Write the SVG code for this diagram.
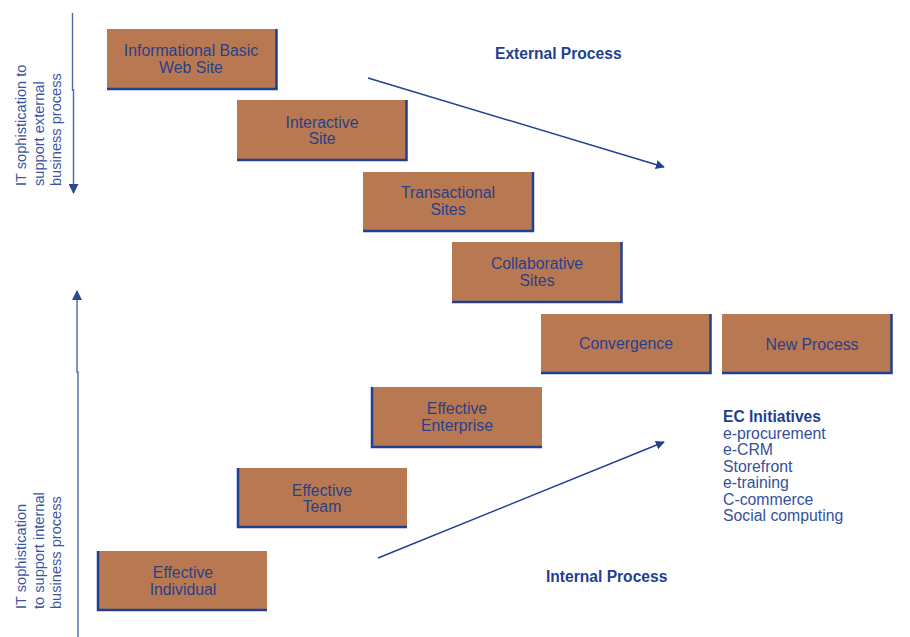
<svg xmlns="http://www.w3.org/2000/svg" width="910" height="637" viewBox="0 0 910 637">
  <defs>
    <marker id="arrow" viewBox="0 0 10 10" refX="9" refY="5" markerWidth="9" markerHeight="9" markerUnits="userSpaceOnUse" orient="auto">
      <path d="M0,0 L10,5 L0,10 z" fill="#1f3f8f"/>
    </marker>
    <marker id="arrowV" viewBox="0 0 10 10" refX="9" refY="5" markerWidth="10" markerHeight="10" markerUnits="userSpaceOnUse" orient="auto">
      <path d="M0,0 L10,5 L0,10 z" fill="#2a4a90"/>
    </marker>
  </defs>
  <style>
    .box { fill: #b87952; }
    .edge { stroke: #1f3f8f; stroke-width: 2.5; fill: none; }
    .lbl { font-family: "Liberation Sans", Arial, sans-serif; font-size: 15.8px; fill: #2a3f8a; text-anchor: middle; }
    .head { font-family: "Liberation Sans", Arial, sans-serif; font-size: 15.6px; font-weight: bold; fill: #1f3f8f; }
    .side { font-family: "Liberation Sans", Arial, sans-serif; font-size: 14.6px; fill: #3a56a0; }
    .list { font-family: "Liberation Sans", Arial, sans-serif; font-size: 15.8px; fill: #35509a; }
    .conn { stroke: #1f3f8f; stroke-width: 1.4; fill: none; }
    .axis { stroke: #4a68a8; stroke-width: 1.4; fill: none; }
  </style>
  <rect width="910" height="637" fill="#ffffff"/>

  <!-- upper staircase: blue edge on right and bottom -->
  <g id="informational">
    <rect class="box" x="107" y="29" width="170" height="61"/>
    <path class="edge" d="M276.5,29 V89 H107"/>
    <text class="lbl" x="191" y="56">Informational Basic</text>
    <text class="lbl" x="191" y="73">Web Site</text>
  </g>
  <g id="interactive">
    <rect class="box" x="237" y="100" width="170" height="61"/>
    <path class="edge" d="M406.5,100 V160 H237"/>
    <text class="lbl" x="322" y="128">Interactive</text>
    <text class="lbl" x="322" y="144">Site</text>
  </g>
  <g id="transactional">
    <rect class="box" x="363" y="172" width="171" height="60"/>
    <path class="edge" d="M533,172 V231 H363"/>
    <text class="lbl" x="448" y="198">Transactional</text>
    <text class="lbl" x="448" y="215">Sites</text>
  </g>
  <g id="collaborative">
    <rect class="box" x="452" y="242" width="170" height="61"/>
    <path class="edge" d="M621.5,242 V302 H452"/>
    <text class="lbl" x="537" y="269">Collaborative</text>
    <text class="lbl" x="537" y="286">Sites</text>
  </g>
  <g id="convergence">
    <rect class="box" x="541" y="314" width="170" height="60"/>
    <path class="edge" d="M710.5,314 V373 H541"/>
    <text class="lbl" x="626" y="349">Convergence</text>
  </g>
  <g id="new-process">
    <rect class="box" x="722" y="314" width="170" height="60"/>
    <path class="edge" d="M891.5,314 V373 H722"/>
    <text class="lbl" x="812" y="350">New Process</text>
  </g>

  <!-- lower staircase: blue edge on left and bottom -->
  <g id="enterprise">
    <rect class="box" x="371" y="387" width="171" height="61"/>
    <path class="edge" d="M372,387 V447 H542"/>
    <text class="lbl" x="457" y="414">Effective</text>
    <text class="lbl" x="457" y="431">Enterprise</text>
  </g>
  <g id="team">
    <rect class="box" x="237" y="468" width="170" height="60"/>
    <path class="edge" d="M238,468 V527 H407"/>
    <text class="lbl" x="322" y="496">Effective</text>
    <text class="lbl" x="322" y="512">Team</text>
  </g>
  <g id="individual">
    <rect class="box" x="97" y="551" width="170" height="60"/>
    <path class="edge" d="M98,551 V610 H267"/>
    <text class="lbl" x="183" y="578">Effective</text>
    <text class="lbl" x="183" y="595">Individual</text>
  </g>

  <!-- free labels -->
  <g id="labels">
    <text class="head" x="495" y="59">External Process</text>
    <text class="head" x="546" y="582">Internal Process</text>
    <text class="head" x="723" y="422">EC Initiatives</text>
    <text class="list" x="723" y="439">e-procurement</text>
    <text class="list" x="723" y="455">e-CRM</text>
    <text class="list" x="723" y="472">Storefront</text>
    <text class="list" x="723" y="488">e-training</text>
    <text class="list" x="723" y="505">C-commerce</text>
    <text class="list" x="723" y="521">Social computing</text>
    <text class="side" transform="translate(26,186) rotate(-90)">
      <tspan x="0" y="0">IT sophistication to</tspan>
      <tspan x="0" y="18">support external</tspan>
      <tspan x="0" y="35">business process</tspan>
    </text>
    <text class="side" transform="translate(26,609) rotate(-90)">
      <tspan x="0" y="0">IT sophistication</tspan>
      <tspan x="0" y="18">to support internal</tspan>
      <tspan x="0" y="35">business process</tspan>
    </text>
  </g>

  <!-- connectors -->
  <g id="connectors">
    <path class="axis" d="M72.5,13 V90 H73.5 V193" marker-end="url(#arrowV)"/>
    <path class="axis" d="M78,637 V372 H77 V291" marker-end="url(#arrowV)"/>
    <path class="conn" d="M368,78 L664,167" marker-end="url(#arrow)"/>
    <path class="conn" d="M378,558 L664,442" marker-end="url(#arrow)"/>
  </g>
</svg>
